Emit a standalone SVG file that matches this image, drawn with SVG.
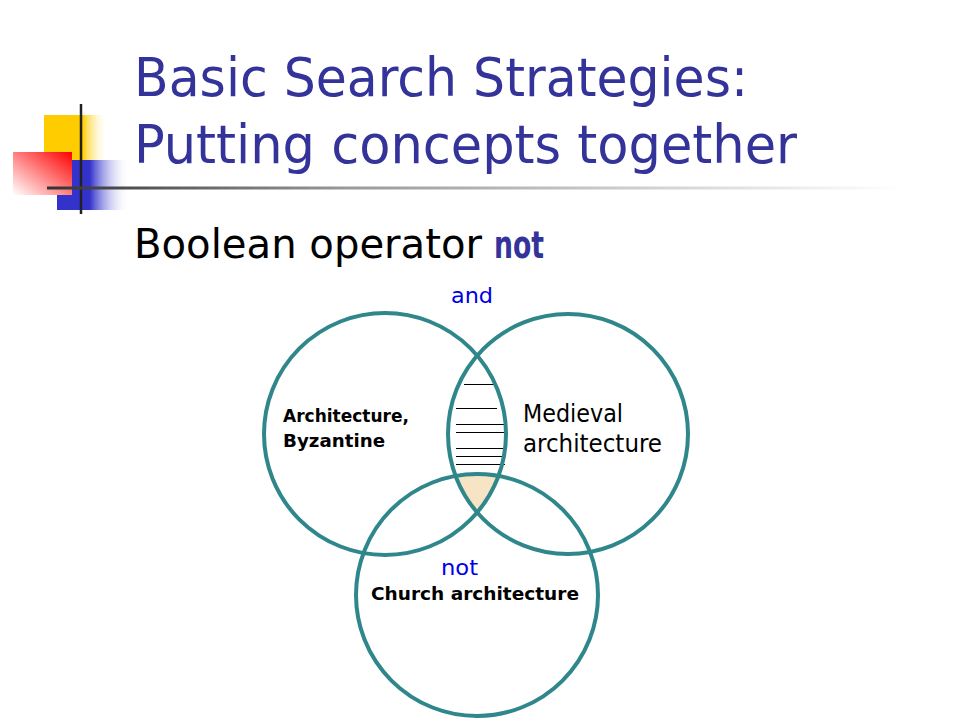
<svg xmlns="http://www.w3.org/2000/svg" width="960" height="720" viewBox="0 0 960 720">
<style>
  .title { font-family: "DejaVu Sans Condensed", "DejaVu Sans", sans-serif; font-size: 54px; fill: #333399; }
  .sub { font-family: "DejaVu Sans Condensed", "DejaVu Sans", sans-serif; font-size: 40px; fill: #000; }
  .subop { font-family: "DejaVu Sans Condensed", "DejaVu Sans", sans-serif; font-size: 38px; font-weight: bold; fill: #333399; }
  .lbl { font-family: "DejaVu Sans Condensed", "DejaVu Sans", sans-serif; font-size: 24px; fill: #000; }
  .blbl { font-family: "DejaVu Sans", sans-serif; font-size: 18px; font-weight: bold; fill: #000; }
  .op { font-family: "DejaVu Sans Condensed", "DejaVu Sans", sans-serif; font-size: 22px; fill: #0000e6; }
  .ring { fill: none; stroke: #2f878b; stroke-width: 4; }
  .hatch { stroke: #000; stroke-width: 1; shape-rendering: crispEdges; }
</style>
<defs>
  <linearGradient id="gY" x1="0" y1="0" x2="1" y2="0">
    <stop offset="0" stop-color="#ffcc00"/>
    <stop offset="0.6" stop-color="#ffcc00"/>
    <stop offset="1" stop-color="#ffffff" stop-opacity="0"/>
  </linearGradient>
  <linearGradient id="gB" x1="0" y1="0" x2="1" y2="0">
    <stop offset="0" stop-color="#3333cc"/>
    <stop offset="0.45" stop-color="#3333cc"/>
    <stop offset="1" stop-color="#ffffff" stop-opacity="0"/>
  </linearGradient>
  <linearGradient id="gR" x1="1" y1="0" x2="0" y2="1">
    <stop offset="0" stop-color="#ff0000"/>
    <stop offset="0.5" stop-color="#ff8080"/>
    <stop offset="1" stop-color="#ffffff"/>
  </linearGradient>
  <linearGradient id="gL" x1="0" y1="0" x2="1" y2="0">
    <stop offset="0" stop-color="#333333"/>
    <stop offset="0.35" stop-color="#999999"/>
    <stop offset="1" stop-color="#ffffff"/>
  </linearGradient>
  <clipPath id="cL"><circle cx="385" cy="434" r="121"/></clipPath>
  <clipPath id="cR"><circle cx="568" cy="434" r="120"/></clipPath>
</defs>
<rect width="960" height="720" fill="#ffffff"/>

<g id="decoration">
  <rect x="44" y="115" width="64" height="45" fill="url(#gY)"/>
  <rect x="57" y="160" width="73" height="50" fill="url(#gB)"/>
  <rect x="13" y="152" width="59" height="43" fill="url(#gR)"/>
  <line x1="81" y1="104" x2="81" y2="214" stroke="#222" stroke-width="2.5"/>
  <rect x="47" y="186.5" width="853" height="3" fill="url(#gL)"/>
</g>

<g id="title">
  <text class="title" x="134" y="96" textLength="614" lengthAdjust="spacingAndGlyphs">Basic Search Strategies:</text>
  <text class="title" x="134" y="163" textLength="663" lengthAdjust="spacingAndGlyphs">Putting concepts together</text>
</g>

<g id="subtitle">
  <text class="sub" x="134" y="258" textLength="348" lengthAdjust="spacingAndGlyphs">Boolean operator</text>
  <text class="subop" x="494" y="258" textLength="50" lengthAdjust="spacingAndGlyphs">not</text>
</g>

<g id="intersection">
  <g clip-path="url(#cL)"><g clip-path="url(#cR)">
    <circle cx="477" cy="595" r="121" fill="#f6e4c4"/>
  </g></g>
</g>

<g id="hatching">
  <line class="hatch" x1="464" y1="384.5" x2="497" y2="384.5"/>
  <line class="hatch" x1="456" y1="408.5" x2="497" y2="408.5"/>
  <line class="hatch" x1="456" y1="424.5" x2="505" y2="424.5"/>
  <line class="hatch" x1="456" y1="432.5" x2="505" y2="432.5"/>
  <line class="hatch" x1="456" y1="448.5" x2="505" y2="448.5"/>
  <line class="hatch" x1="456" y1="456.5" x2="505" y2="456.5"/>
  <line class="hatch" x1="456" y1="464.5" x2="505" y2="464.5"/>
</g>

<g id="circle-byzantine">
  <circle class="ring" cx="385" cy="434" r="121"/>
  <text class="blbl" x="283" y="422" textLength="126" lengthAdjust="spacingAndGlyphs">Architecture,</text>
  <text class="blbl" x="283" y="447" textLength="102" lengthAdjust="spacingAndGlyphs">Byzantine</text>
</g>

<g id="circle-medieval">
  <circle class="ring" cx="568" cy="434" r="120"/>
  <text class="lbl" x="523" y="422" textLength="100" lengthAdjust="spacingAndGlyphs">Medieval</text>
  <text class="lbl" x="523" y="452" textLength="139" lengthAdjust="spacingAndGlyphs">architecture</text>
</g>

<g id="circle-church">
  <circle class="ring" cx="477" cy="595" r="121"/>
  <text class="blbl" x="371" y="600" textLength="208" lengthAdjust="spacingAndGlyphs">Church architecture</text>
</g>

<g id="operators">
  <text class="op" x="451" y="303" textLength="42" lengthAdjust="spacingAndGlyphs">and</text>
  <text class="op" x="441" y="575" textLength="37" lengthAdjust="spacingAndGlyphs">not</text>
</g>
</svg>
